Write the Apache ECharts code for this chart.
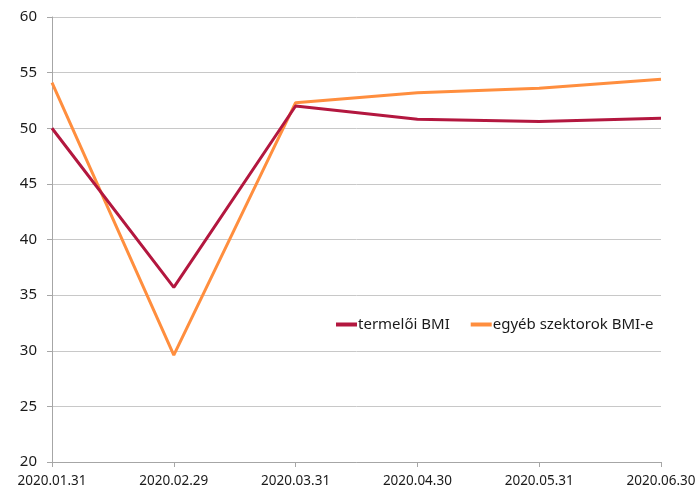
<!DOCTYPE html>
<html><head><meta charset="utf-8">
<script src="https://cdn.jsdelivr.net/npm/echarts@6/dist/echarts.min.js"></script>
<style>html,body{margin:0;padding:0;background:#fff}#c{width:700px;height:491px}</style>
</head><body><div id="c"></div>
<script>
const categories = ['2020.01.31','2020.02.29','2020.03.31','2020.04.30','2020.05.31','2020.06.30'];
const termeloi = [50.0, 35.7, 52.0, 50.8, 50.6, 50.9];
const egyeb = [54.1, 29.6, 52.3, 53.2, 53.6, 54.4];
const seriesNames = ['termelői BMI', 'egyéb szektorok BMI-e'];

const chart = echarts.init(document.getElementById('c'));
chart.setOption({
  animation: false,
  backgroundColor: '#fff',
  grid: {left: 52, right: 39, top: 17, bottom: 29, containLabel: false},
  legend: {
    left: 331, top: 312, itemWidth: 21, itemHeight: 4, itemGap: 21,
    icon: 'rect',
    textStyle: {fontFamily: 'Noto Sans', fontSize: 15, color: '#1a1a1a', padding: [0, 0, 0, -4]},
    data: seriesNames
  },
  xAxis: {
    type: 'category', data: categories, boundaryGap: false,
    axisLine: {lineStyle: {color: '#a6a6a6', width: 1}},
    axisTick: {show: true, alignWithLabel: true, length: 5, lineStyle: {color: '#a6a6a6'}},
    axisLabel: {fontFamily: 'Noto Sans', fontSize: 13.5, color: '#1a1a1a', margin: 12, interval: 0},
    splitLine: {show: false}
  },
  yAxis: {
    type: 'value', min: 20, max: 60, interval: 5,
    axisLine: {show: true, lineStyle: {color: '#a6a6a6', width: 1}},
    axisTick: {show: true, length: 5, lineStyle: {color: '#a6a6a6'}},
    axisLabel: {fontFamily: 'Noto Sans', fontSize: 15, color: '#1a1a1a', margin: 15},
    splitLine: {show: true, lineStyle: {color: '#c8c8c8', width: 1}}
  },
  series: [
    {name: seriesNames[0], type: 'line', data: termeloi, symbol: 'none',
     lineStyle: {color: '#B3173F', width: 3}, itemStyle: {color: '#B3173F'}, z: 3},
    {name: seriesNames[1], type: 'line', data: egyeb, symbol: 'none',
     lineStyle: {color: '#FF8E3E', width: 3}, itemStyle: {color: '#FF8E3E'}, z: 2}
  ]
});
</script></body></html>
